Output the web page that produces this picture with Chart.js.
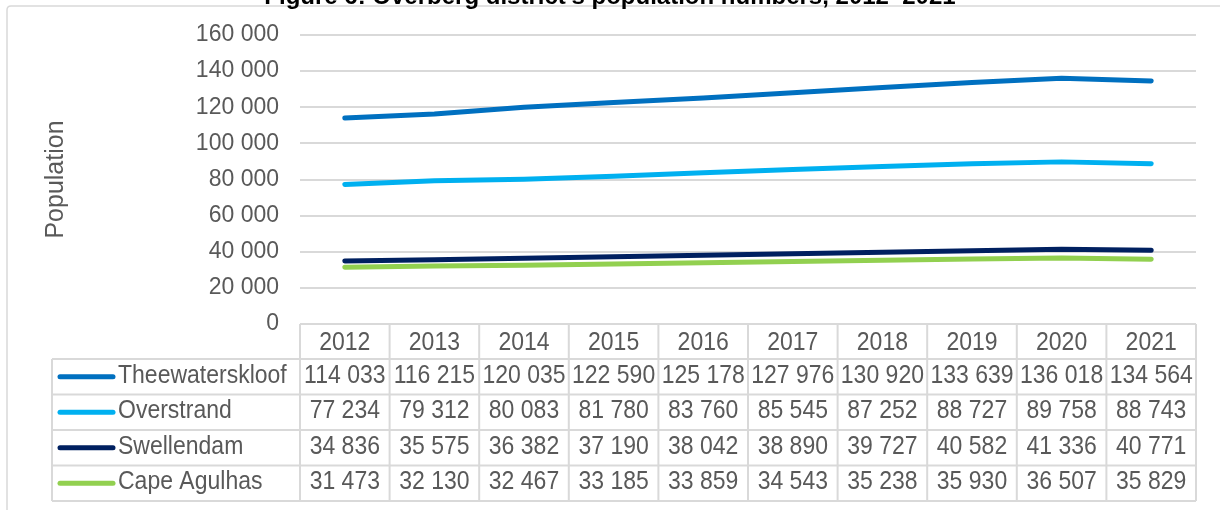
<!DOCTYPE html>
<html>
<head>
<meta charset="utf-8">
<script src="https://cdn.jsdelivr.net/npm/chart.js@4.4.1/dist/chart.umd.min.js"></script>
<style>
  html, body { margin: 0; padding: 0; background: #fff; }
  #wrap { width: 1220px; height: 510px; }
</style>
</head>
<body>
<div id="wrap"><canvas id="pop-chart" width="1220" height="510"></canvas></div>
<script>
const years = ['2012', '2013', '2014', '2015', '2016', '2017', '2018', '2019', '2020', '2021'];
const theewaterskloof = [114033, 116215, 120035, 122590, 125178, 127976, 130920, 133639, 136018, 134564];
const overstrand = [77234, 79312, 80083, 81780, 83760, 85545, 87252, 88727, 89758, 88743];
const swellendam = [34836, 35575, 36382, 37190, 38042, 38890, 39727, 40582, 41336, 40771];
const capeAgulhas = [31473, 32130, 32467, 33185, 33859, 34543, 35238, 35930, 36507, 35829];

const textColor = '#595959';
const gridColor = '#D9D9D9';
const fontFamily = '"Liberation Sans", Arial, sans-serif';

function fmt(v) {
    return String(v).replace(/\B(?=(\d{3})+(?!\d))/g, ' ');
}

// text in the table looks a little taller than wide in the original
function tallText(c, text, x, y) {
    c.save();
    c.translate(x, y);
    c.scale(1, 1.12);
    c.fillText(text, 0, 0);
    c.restore();
}

// frame + cut-off figure title
const framePlugin = {
    id: 'frame',
    beforeDraw(chart) {
        const c = chart.ctx;
        c.save();
        c.strokeStyle = gridColor;
        c.lineWidth = 1.5;
        c.beginPath();
        c.moveTo(7, chart.height);
        c.lineTo(7, 10);
        c.quadraticCurveTo(7, 6, 11, 6);
        c.lineTo(chart.width, 6);
        c.stroke();
        c.fillStyle = '#000';
        c.font = 'bold 24px ' + fontFamily;
        c.textAlign = 'center';
        c.textBaseline = 'alphabetic';
        c.fillText('Figure 6: Overberg district\u2019s population numbers, 2012\u20132021', 610, 4);
        c.restore();
    }
};

// data table under the plot
const tablePlugin = {
    id: 'dataTable',
    afterDraw(chart) {
        const c = chart.ctx;
        const area = chart.chartArea;
        const xs = chart.scales.x;
        const n = years.length;
        const colW = (area.right - area.left) / n;
        const tableLeft = 52;
        const top = area.bottom;
        const headerH = 35;
        const rowH = 35.5;
        const rows = chart.data.datasets;
        const bottom = top + headerH + rowH * rows.length;

        c.save();
        c.strokeStyle = gridColor;
        c.lineWidth = 2;
        c.beginPath();
        c.moveTo(area.left, top);
        c.lineTo(area.right, top);
        for (let r = 0; r <= rows.length; r++) {
            const y = top + headerH + r * rowH;
            c.moveTo(tableLeft, y);
            c.lineTo(area.right, y);
        }
        c.moveTo(tableLeft, top + headerH);
        c.lineTo(tableLeft, bottom);
        for (let i = 0; i <= n; i++) {
            const x = area.left + i * colW;
            c.moveTo(x, top);
            c.lineTo(x, bottom);
        }
        c.stroke();

        c.fillStyle = textColor;
        c.font = '23px ' + fontFamily;
        c.textBaseline = 'middle';
        c.textAlign = 'center';
        years.forEach((y, i) => {
            tallText(c, y, xs.getPixelForValue(i), top + headerH / 2 + 1);
        });

        rows.forEach((ds, r) => {
            const cy = top + headerH + r * rowH + rowH / 2;
            c.strokeStyle = ds.borderColor;
            c.lineWidth = 5;
            c.lineCap = 'round';
            c.beginPath();
            c.moveTo(60, cy);
            c.lineTo(113, cy);
            c.stroke();
            c.textAlign = 'left';
            tallText(c, ds.label, 118, cy - 1);
            c.textAlign = 'center';
            ds.data.forEach((v, i) => {
                tallText(c, fmt(v), xs.getPixelForValue(i), cy - 1);
            });
        });
        c.restore();
    }
};

function line(label, data, color) {
    return {
        label: label,
        data: data,
        borderColor: color,
        backgroundColor: color,
        borderWidth: 5,
        borderCapStyle: 'round',
        borderJoinStyle: 'round',
        pointRadius: 0,
        pointHoverRadius: 0,
        tension: 0,
        fill: false
    };
}

new Chart(document.getElementById('pop-chart'), {
    type: 'line',
    data: {
        labels: years,
        datasets: [
            line('Theewaterskloof', theewaterskloof, '#0070C0'),
            line('Overstrand', overstrand, '#00B0F0'),
            line('Swellendam', swellendam, '#002060'),
            line('Cape Agulhas', capeAgulhas, '#92D050')
        ]
    },
    options: {
        responsive: false,
        animation: false,
        events: [],
        layout: { padding: { left: 8, top: 35, right: 24, bottom: 186 } },
        plugins: {
            legend: { display: false },
            tooltip: { enabled: false },
            title: { display: false }
        },
        scales: {
            x: {
                display: false,
                offset: true
            },
            y: {
                min: 0,
                max: 160000,
                afterFit(scale) { scale.width = 292; },
                ticks: {
                    stepSize: 20000,
                    padding: 21,
                    color: textColor,
                    font: { family: fontFamily, size: 23 },
                    callback: (v) => fmt(v)
                },
                grid: {
                    color: gridColor,
                    lineWidth: 2,
                    drawTicks: false
                },
                border: { display: false },
                title: {
                    display: true,
                    text: 'Population',
                    color: textColor,
                    font: { family: fontFamily, size: 25 },
                    padding: { top: 33, bottom: 0 }
                }
            }
        }
    },
    plugins: [framePlugin, tablePlugin]
});
</script>
</body>
</html>
